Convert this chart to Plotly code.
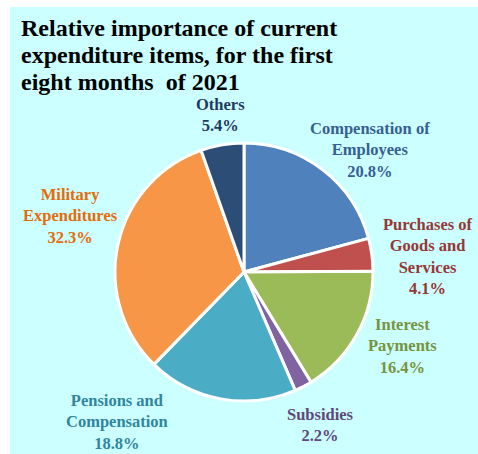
import plotly.graph_objects as go

W, H = 478, 454

# data, clockwise from 12 o'clock
LABELS = ["Compensation of<br>Employees", "Purchases of<br>Goods and<br>Services",
          "Interest<br>Payments", "Subsidies", "Pensions and<br>Compensation",
          "Military<br>Expenditures", "Others"]
SHARES = [20.8, 4.1, 16.4, 2.2, 18.8, 32.3, 5.4]

TITLE_LINES = ["Relative importance of current",
               "expenditure items, for the first",
               "eight months  of 2021"]

SLICE_COLORS = ["#4F81BD", "#C0504D", "#9BBB59", "#8064A2", "#4BACC6", "#F79646", "#2C4D75"]
TEXT_COLORS  = ["#376092", "#953735", "#77933C", "#5F497A", "#31859C", "#E46C0A", "#1F3A60"]

# label centres in window pixels
LABEL_XY = [(370, 150), (428, 256), (402, 346), (320, 425), (117, 422), (70, 216), (220, 115)]

BG = "#CCFFFF"
FONT = "Liberation Serif, Times New Roman, serif"


def px_x(x):
    return x / W


def px_y(y):
    return 1 - y / H


cx, cy, r = 244, 272, 129

fig = go.Figure(go.Pie(
    labels=[l.replace("<br>", " ") for l in LABELS],
    values=SHARES,
    sort=False, direction="clockwise", rotation=0,
    marker=dict(colors=SLICE_COLORS, line=dict(color="white", width=3)),
    textinfo="none", hoverinfo="label+percent",
    domain=dict(x=[px_x(cx - r), px_x(cx + r)], y=[px_y(cy + r), px_y(cy - r)]),
))

for lab, val, col, (x, y) in zip(LABELS, SHARES, TEXT_COLORS, LABEL_XY):
    fig.add_annotation(
        x=px_x(x), y=px_y(y), xref="paper", yref="paper",
        text=f"<b>{lab}<br>{val:.1f}%</b>", showarrow=False,
        xanchor="center", yanchor="middle", align="center",
        font=dict(family=FONT, size=16.5, color=col),
    )

for i, line in enumerate(TITLE_LINES):
    fig.add_annotation(
        x=px_x(19), y=px_y(28 + 27 * i), xref="paper", yref="paper",
        text=f"<b>{line}</b>", showarrow=False,
        xanchor="left", yanchor="middle", align="left",
        font=dict(family=FONT, size=24, color="black"),
    )

# cyan panel, leaving a thin white strip on the left and top
fig.add_shape(type="rect", xref="paper", yref="paper",
              x0=px_x(10), x1=1, y0=0, y1=px_y(7),
              fillcolor=BG, line_width=0, layer="below")

fig.update_layout(
    width=W, height=H, paper_bgcolor="white", plot_bgcolor="white",
    margin=dict(l=0, r=0, t=0, b=0), showlegend=False,
)

# drop the default body margin and scrollbars so the figure fills the window
fig.write_html(
    "out.html",
    config={"displayModeBar": False},
    post_script="document.body.style.margin='0';document.body.style.overflow='hidden';",
)
